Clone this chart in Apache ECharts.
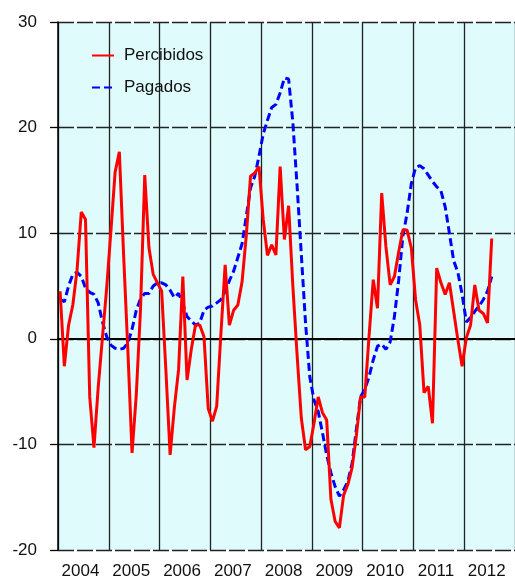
<!DOCTYPE html>
<html>
<head>
<meta charset="utf-8">
<script src="https://cdn.jsdelivr.net/npm/echarts@6/dist/echarts.min.js"></script>
<style>
html,body{margin:0;padding:0;background:#fff;}
#chart{width:515px;height:584px;}
</style>
</head>
<body>
<div id="chart"></div>
<script>
// Year tick labels (monthly data, Jan 2004 .. Jul 2012)
const years = ['2004','2005','2006','2007','2008','2009','2010','2011','2012'];
const seriesNames = ['Percibidos', 'Pagados'];
const yTicks = [-20, -10, 0, 10, 20, 30];

// Percibidos (red solid), monthly values
const percibidos = [
  4.5, -2.6, 1.3, 3.2, 6.5, 12.0, 11.3, -5.5, -10.3, -4.6, 0.1, 4.8,
  10.2, 15.8, 17.7, 8.0, -1.0, -10.8, -5.3, 2.8, 15.5, 8.6, 6.1, 5.3,
  4.5, -3.0, -11.0, -6.5, -2.9, 5.9, -3.9, -1.0, 1.3, 1.3, 0.2, -6.6,
  -7.8, -6.4, 0.5, 7.0, 1.3, 2.7, 3.2, 5.4, 9.8, 15.4, 15.7, 16.3,
  11.3, 7.9, 8.9, 7.95, 16.3, 9.4, 12.6, 5.0, -1.5, -7.5, -10.5, -10.2,
  -8.0, -5.5, -7.0, -7.7, -15.2, -17.3, -17.9, -14.8, -13.8, -12.2, -9.2, -5.5,
  -5.5, 0.2, 5.6, 2.9, 13.8, 8.7, 5.1, 5.9, 8.2, 10.3, 10.3, 8.6,
  3.7, 1.3, -5.1, -4.5, -8.0, 6.7, 5.3, 4.2, 5.3, 2.6, -0.1, -2.6,
  0.1, 1.3, 5.1, 2.7, 2.4, 1.5, 9.5
];

// Pagados (blue dashed), monthly values
const pagados = [
  3.75, 3.5, 5.0, 6.1, 6.3, 5.9, 4.8, 4.4, 4.2, 3.4, 1.6, 0.2,
  -0.6, -0.9, -1.0, -0.9, -0.4, 0.9, 2.7, 3.8, 4.3, 4.3, 5.0, 5.3,
  5.3, 5.1, 4.6, 3.9, 4.3, 3.3, 2.1, 1.7, 1.3, 1.5, 2.7, 3.0,
  3.1, 3.4, 3.7, 4.5, 5.5, 6.4, 7.7, 9.0, 11.6, 14.3, 15.4, 17.3,
  19.4, 20.7, 21.9, 22.2, 23.3, 24.7, 24.6, 20.5, 14.5, 8.0, 1.5, -3.6,
  -5.8, -6.9, -8.9, -11.0, -12.7, -14.0, -14.9, -14.3, -13.5, -11.8, -8.6, -5.5,
  -4.8, -3.6, -2.0, -0.7, -0.5, -1.0, -0.3, 2.1, 5.5, 9.7, 11.9, 14.7,
  16.2, 16.4, 16.1, 15.5, 14.9, 14.4, 14.0, 12.5, 10.0, 7.4, 6.3, 4.2,
  1.6, 2.0, 2.6, 3.1, 3.7, 4.5, 5.9
];

// Build monthly categories from years
const months = [];
years.forEach(y => { for (let m = 1; m <= 12; m++) months.push(y + '-' + (m < 10 ? '0' + m : m)); });

const font = '"Liberation Sans", Arial, sans-serif';
const chart = echarts.init(document.getElementById('chart'), null, {renderer: 'canvas'});
chart.setOption({
  animation: false,
  backgroundColor: '#ffffff',
  textStyle: {fontFamily: font},
  grid: {
    left: 58, right: -2, top: 22, bottom: 34,
    show: true, backgroundColor: '#dffbfb', borderWidth: 0
  },
  legend: {
    orient: 'vertical',
    left: 86, top: 42,
    itemWidth: 22, itemHeight: 14, itemGap: 15,
    itemStyle: {opacity: 0},
    textStyle: {fontSize: 17, color: '#111', fontFamily: font, padding: [0, 0, 0, 5]},
    data: seriesNames
  },
  xAxis: {
    type: 'category',
    data: months,
    boundaryGap: true,
    axisLine: {show: true, lineStyle: {color: '#000', width: 2}},
    axisTick: {show: false},
    axisLabel: {
      interval: (i) => i % 12 === 6,
      formatter: (v) => v.slice(0, 4),
      fontSize: 17, color: '#111', fontFamily: font, margin: 13,
      padding: [0, 10, 0, 0]
    },
    splitLine: {
      show: true,
      interval: (i) => i % 12 === 0,
      lineStyle: {color: '#222', width: 1.3}
    }
  },
  yAxis: {
    type: 'value',
    min: yTicks[0], max: yTicks[yTicks.length - 1], interval: 10,
    axisLine: {show: true, lineStyle: {color: '#000', width: 1.5}},
    axisTick: {show: true, length: 8, lineStyle: {color: '#000', width: 1.3}},
    axisLabel: {fontSize: 17, color: '#111', fontFamily: font, margin: 21},
    splitLine: {show: true, lineStyle: {color: '#222', width: 1.3, type: [16, 3]}}
  },
  series: [
    {
      name: seriesNames[0], type: 'line', data: percibidos,
      symbol: 'none', smooth: false,
      lineStyle: {color: '#ff0000', width: 3},
      itemStyle: {color: '#ff0000'},
      z: 3
    },
    {
      name: seriesNames[1], type: 'line', data: pagados,
      symbol: 'none', smooth: false,
      lineStyle: {color: '#0000ff', width: 3, type: [8, 4]},
      itemStyle: {color: '#0000ff'},
      z: 2
    }
  ]
});
</script>
</body>
</html>
